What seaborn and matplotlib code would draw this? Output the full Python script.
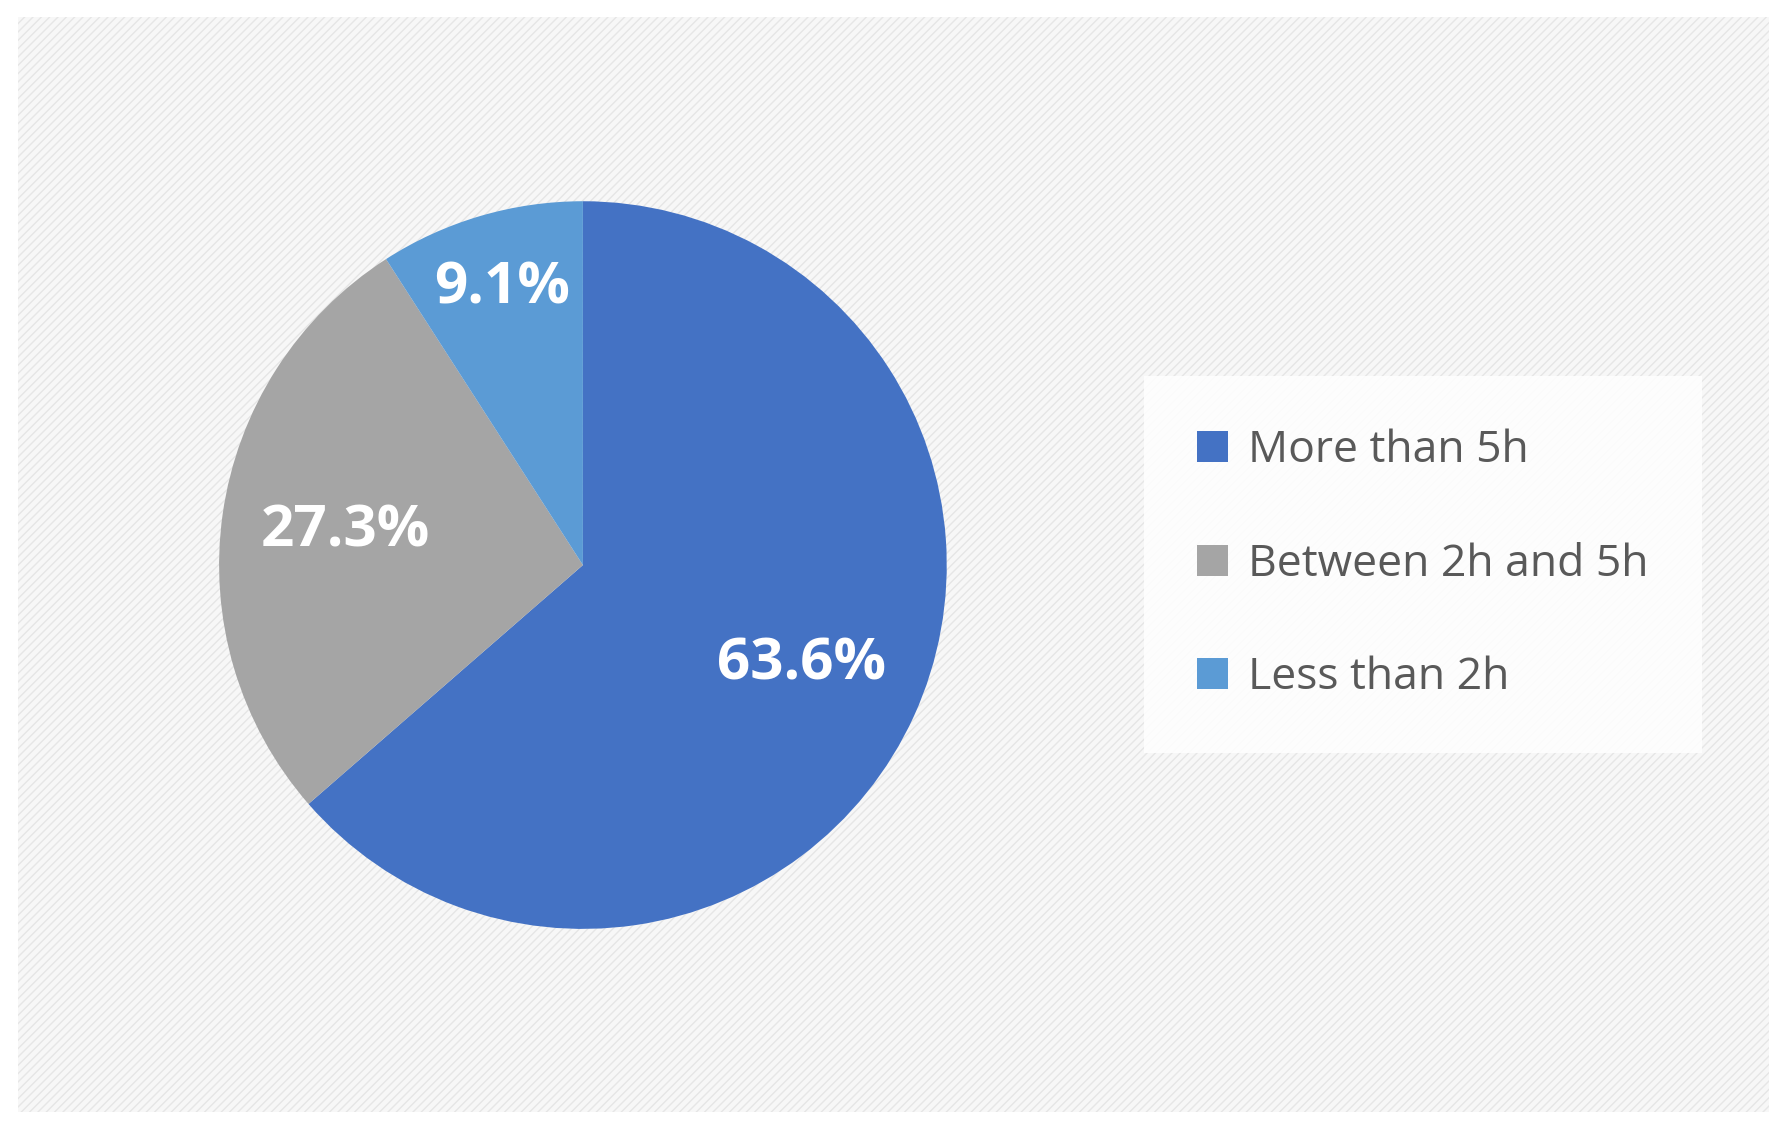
import matplotlib
matplotlib.use("Agg")
import matplotlib.pyplot as plt
import seaborn as sns
from matplotlib.patches import Rectangle

categories = ["More than 5h", "Between 2h and 5h", "Less than 2h"]
values = [63.6, 27.3, 9.1]
colors = ["#4472C4", "#A5A5A5", "#5B9BD5"]

sns.set_style("white")
plt.rcParams['font.family'] = ['Open Sans', 'DejaVu Sans']

fig = plt.figure(figsize=(17.87, 11.29), dpi=100)
bg = Rectangle((0.01, 0.015), 0.98, 0.97, transform=fig.transFigure,
               facecolor="#F7F7F7", edgecolor="#E6E6E6", hatch="////", linewidth=0, zorder=-10)
fig.patches.append(bg)

ax = fig.add_axes([0.0717, 0.0965, 0.509, 0.806], zorder=2)
ax.set_facecolor("none")
wedges, texts, autotexts = ax.pie(values, colors=colors, startangle=90, counterclock=False,
                                  autopct="%.1f%%", pctdistance=0.66,
                                  wedgeprops=dict(linewidth=0),
                                  textprops=dict(color="white", fontsize=42, fontweight="bold"))
x, y = autotexts[2].get_position()
autotexts[2].set_position((x * 1.2, y * 1.2))
ax.set_aspect("equal")

leg = fig.legend(wedges, categories, loc="center left", bbox_to_anchor=(0.635, 0.5),
                 frameon=True, fontsize=32, handlelength=0.7, handleheight=0.7,
                 labelspacing=1.55, borderpad=0.9, handletextpad=0.45)
leg.set_zorder(3)
leg.get_frame().set_facecolor("white")
leg.get_frame().set_alpha(0.85)
leg.get_frame().set_edgecolor("none")
leg.get_frame().set_boxstyle("square")
for t in leg.get_texts():
    t.set_color("#595959")

fig.savefig("out.png", dpi=100)
